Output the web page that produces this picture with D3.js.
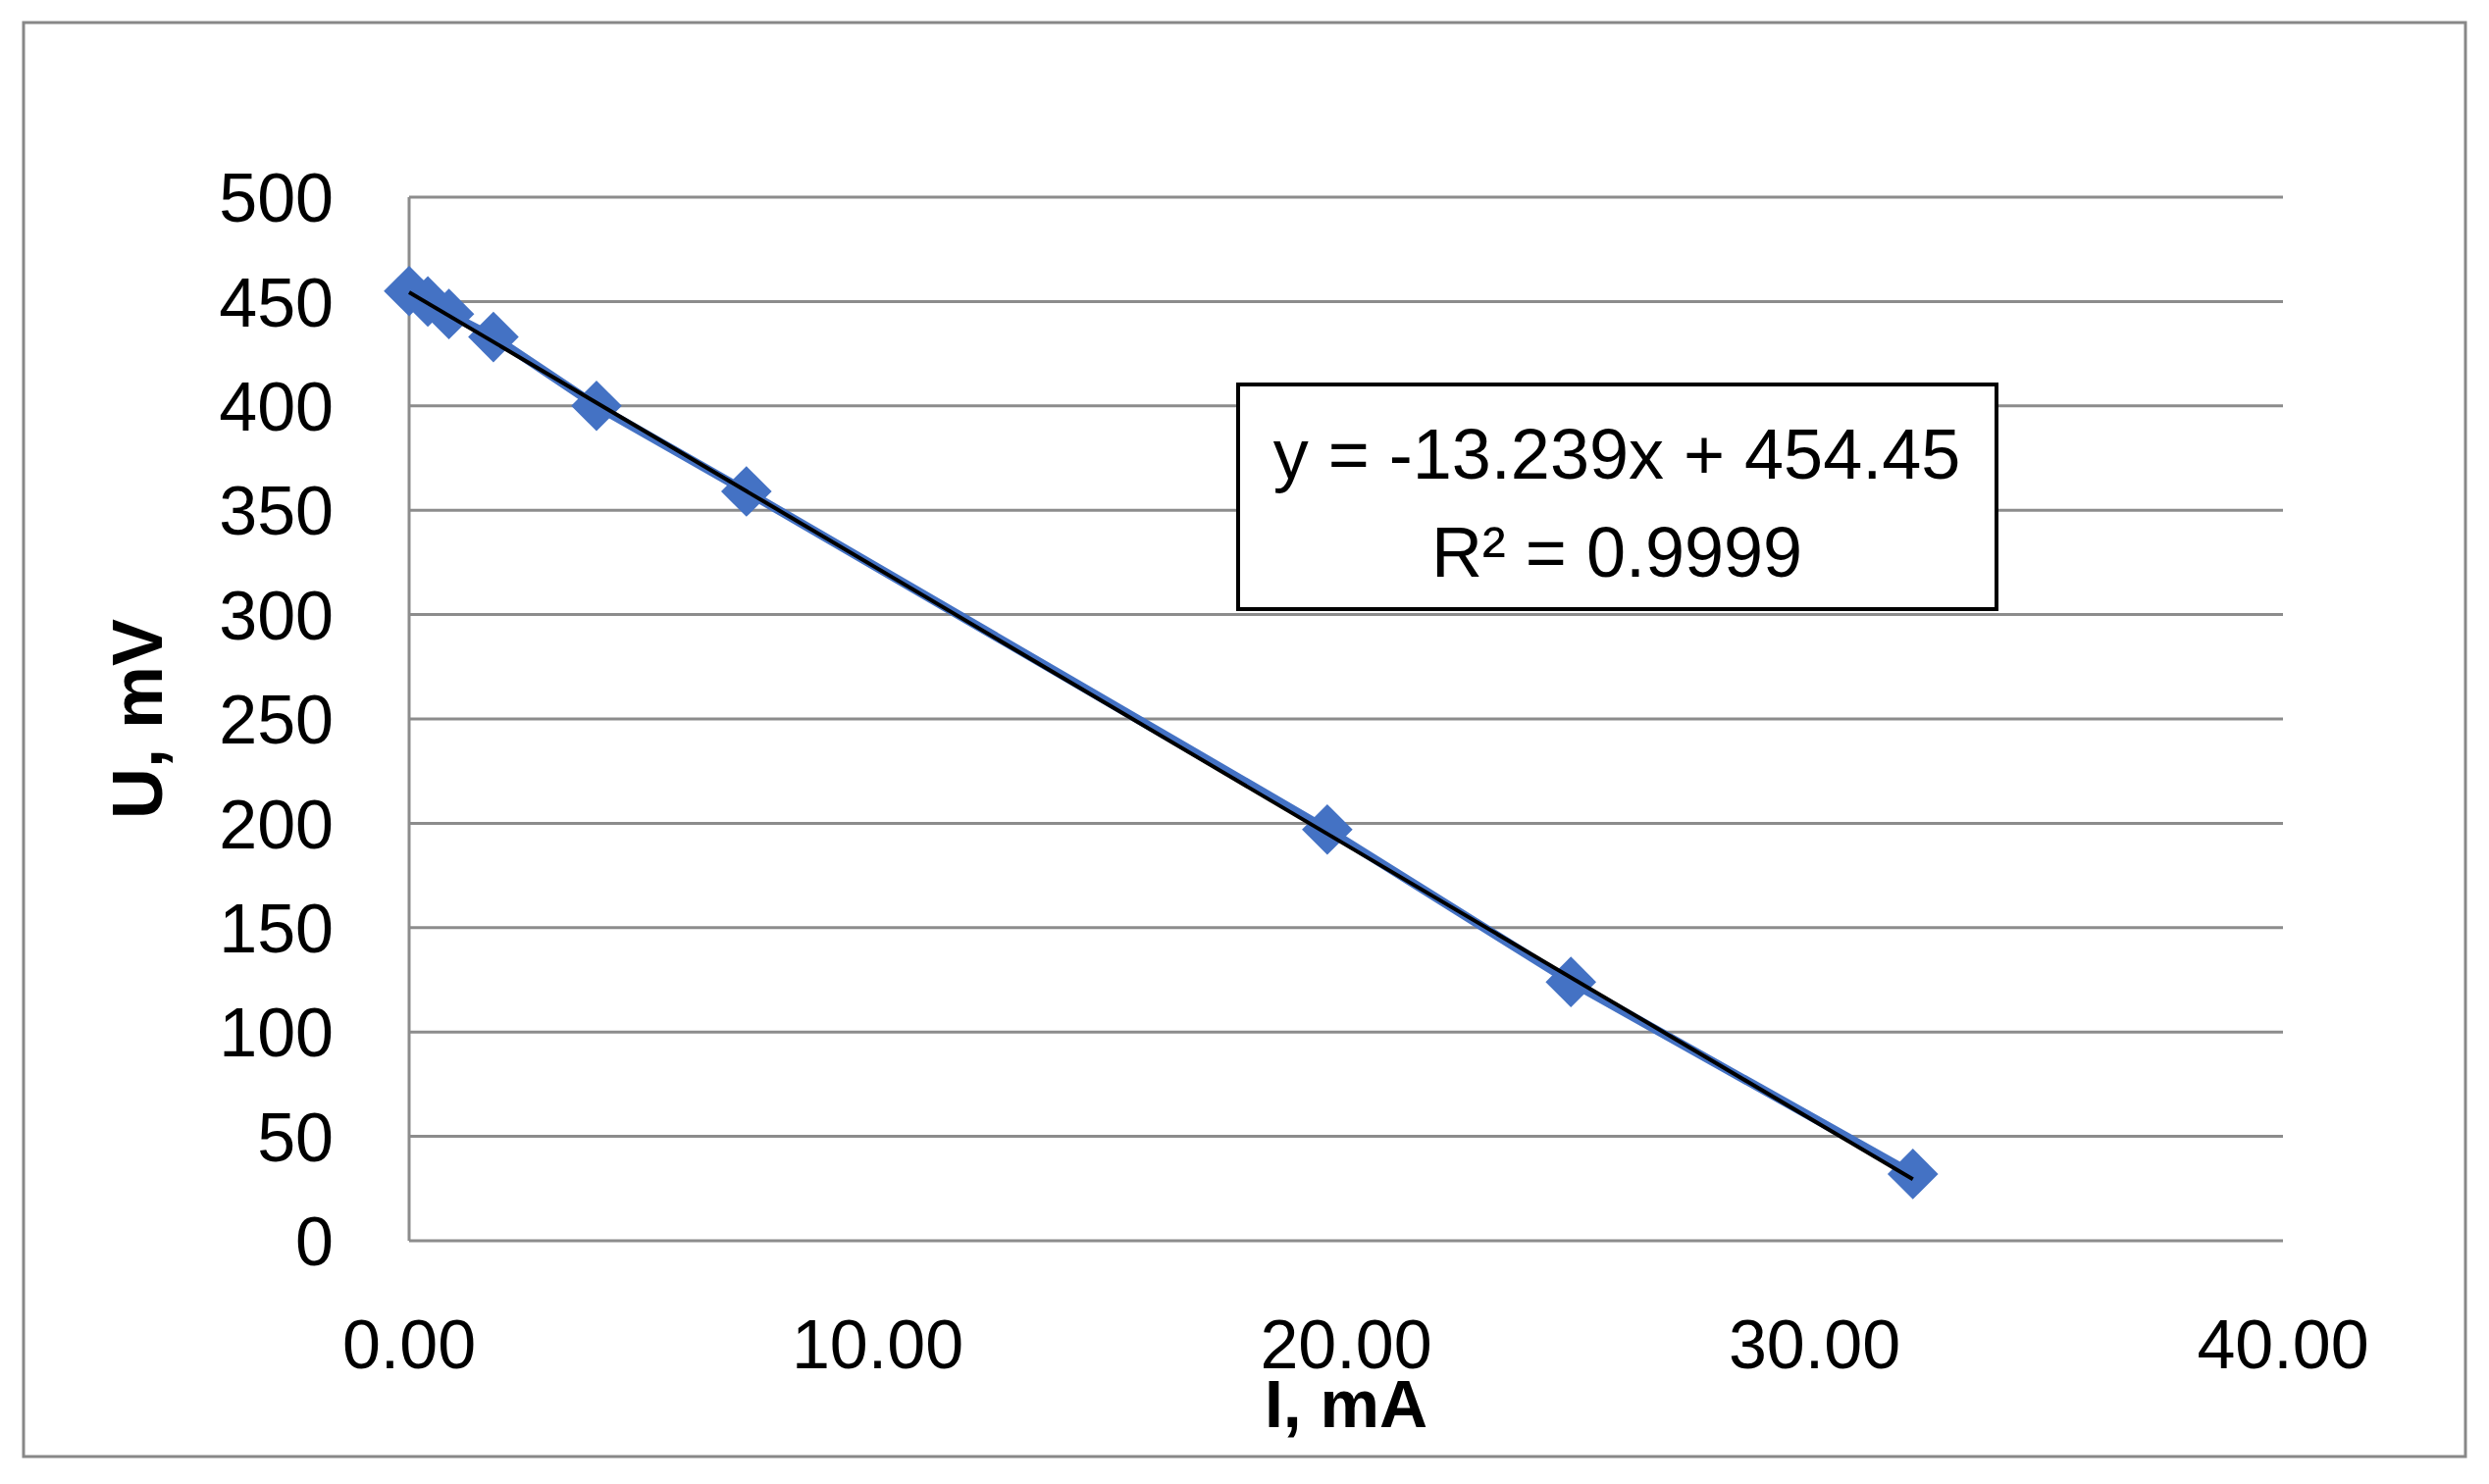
<!DOCTYPE html><html><head><script src="https://cdn.jsdelivr.net/npm/d3@7"></script>
<style>body{margin:0;background:#fff}</style></head><body><svg id="c" width="2537" height="1513"></svg>
<script>
const currentI=[0.0,0.4,0.85,1.8,4.0,7.2,19.6,24.8,32.1];
const voltageU=[455,450,444,433,400,359,197,124,32];
const xTicks=[0,10,20,30,40];
const yTicks=[0,50,100,150,200,250,300,350,400,450,500];
const slope=-13.239, intercept=454.45;
const eqLines=["y = -13.239x + 454.45","R² = 0.9999"];
const svg=d3.select("#c");
const F="'Liberation Sans', Arial, sans-serif";
svg.append("rect").attr("x",24).attr("y",23).attr("width",2489).attr("height",1462).attr("fill","#fff").attr("stroke","#888").attr("stroke-width",3);
const x=d3.scaleLinear().domain([0,40]).range([417,2327]);
const y=d3.scaleLinear().domain([0,500]).range([1265,201]);
const g=svg.append("g");
yTicks.forEach(t=>{g.append("line").attr("x1",x(0)).attr("x2",x(40)).attr("y1",y(t)).attr("y2",y(t)).attr("stroke","#8c8c8c").attr("stroke-width",3);
 g.append("text").attr("x",340).attr("y",y(t)).attr("dy","0.36em").attr("text-anchor","end").attr("font-family",F).attr("font-size",70).text(t);});
g.append("line").attr("x1",x(0)).attr("x2",x(0)).attr("y1",y(0)).attr("y2",y(500)).attr("stroke","#8c8c8c").attr("stroke-width",3);
xTicks.forEach(t=>g.append("text").attr("x",x(t)).attr("y",1395).attr("text-anchor","middle").attr("font-family",F).attr("font-size",70).text(t.toFixed(2)));
svg.append("text").attr("x",1372).attr("y",1455).attr("text-anchor","middle").attr("font-family",F).attr("font-weight","bold").attr("font-size",68).text("I, mA");
svg.append("text").attr("transform","translate(165,733) rotate(-90)").attr("text-anchor","middle").attr("font-family",F).attr("font-weight","bold").attr("font-size",72).text("U, mV");
const pts=currentI.map((v,i)=>[v,voltageU[i]]);
svg.append("path").attr("d",d3.line().x(d=>x(d[0])).y(d=>y(d[1]))(pts)).attr("fill","none").attr("stroke","#4472C4").attr("stroke-width",9);
svg.selectAll(".m").data(pts).enter().append("path").attr("d",d3.symbol(d3.symbolDiamond2,1700)).attr("transform",d=>`translate(${x(d[0])},${y(d[1])})`).attr("fill","#4472C4");
svg.append("line").attr("x1",x(0)).attr("y1",y(intercept)).attr("x2",x(32.1)).attr("y2",y(intercept+slope*32.1)).attr("stroke","#000").attr("stroke-width",4);
svg.append("rect").attr("x",1262).attr("y",392).attr("width",773).attr("height",229).attr("fill","#fff").attr("stroke","#000").attr("stroke-width",4);
eqLines.forEach((s,i)=>svg.append("text").attr("x",1648).attr("y",488+i*100).attr("text-anchor","middle").attr("font-family",F).attr("font-size",72).text(s));
</script></body></html>
